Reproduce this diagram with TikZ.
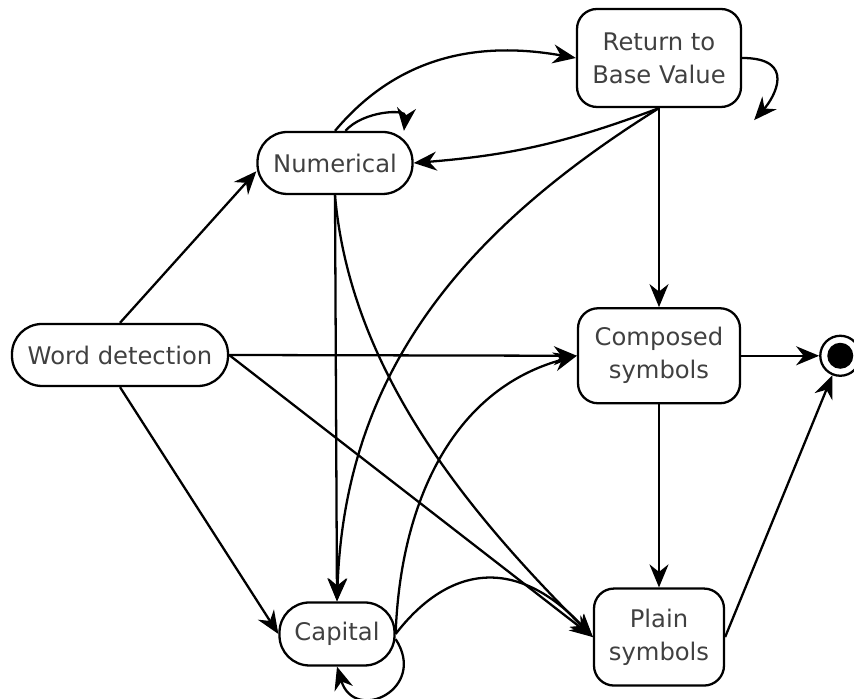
\documentclass[tikz,border=0pt]{standalone}
\usepackage{fontspec}
\setmainfont{DejaVu Sans}
\usetikzlibrary{positioning}
\usetikzlibrary{arrows.meta}

\begin{document}
\begin{tikzpicture}[%
			line width=1.3pt,
			>={Stealth[length=4.6mm,width=3.8mm,inset=1.5mm]},
			font=\fontsize{13.8}{18.8}\selectfont,
			state/.style={draw, rounded corners=0.6cm, align=center, inner sep=0pt, text=black!75},
			endstate/.style={draw, circle, inner sep=0pt, minimum size=0.8cm,
				path picture={\fill (path picture bounding box.center) circle (0.26cm);}}]
			\useasboundingbox (0,0) rectangle (17.08,13.98);
			\node[state, minimum width=4.32cm, minimum height=1.24cm] (word) at (2.40,6.88) {Word detection};
			\node[state, minimum width=3.1cm, minimum height=1.24cm] (numerical) at (6.70,10.72) {Numerical};
			\node[state, minimum width=2.3cm, minimum height=1.26cm] (capital) at (6.74,1.30) {Capital};
			\node[state, rounded corners=0.4cm, minimum width=3.28cm, minimum height=1.96cm] (retbase) at (13.18,12.82) {Return to\\Base Value};
			\node[state, rounded corners=0.4cm, minimum width=3.24cm, minimum height=1.9cm, below=3.98cm of retbase] (composed) {Composed\\symbols};
			\node[state, rounded corners=0.4cm, minimum width=2.6cm, minimum height=1.94cm, below=3.66cm of composed] (plain) {Plain\\symbols};
			\node[endstate, right=1.56cm of composed] (stop) {};
			\coordinate (retloop) at ([shift={(0.24,-0.24)}]retbase.south east);
			% from word detection
			\draw[->] (word.north) -- (numerical.186);
			\draw[->] (word.south) -- (capital.west);
			\draw[->] (word.east) -- (composed.west);
			\draw[->] (word.east) -- (plain.west);
			% numerical
			\draw[->] (numerical.north) to[out=50,in=170] (retbase.west);
			\draw[->] (numerical.72) .. controls +(0.35,0.4) and +(0.05,0.45) .. (numerical.25);
			\draw[->] (numerical.south) .. controls +(0.3,-3.5) and +(-2.5,2.5) .. (plain.west);
			\draw[->] (numerical.south) -- (capital.north);
			% return to base value
			\draw[->] (retbase.south) to[bend left=8] (numerical.east);
			\draw[->] (retbase.south) to[out=212,in=88] (capital.north);
			\draw[->] (retbase.east) .. controls +(1.1,0.0) and +(0.4,0.45) .. (retloop);
			\draw[->] (retbase.south) -- (composed.north);
			% capital
			\draw[->] (capital.east) to[out=88,in=195] (composed.west);
			\draw[->] (capital.east) .. controls +(1.0,1.3) and +(-1.6,1.7) .. (plain.west);
			\draw[->] (capital.-5) .. controls +(0.65,-1.0) and +(0.35,-1.15) .. (capital.south);
			% symbols
			\draw[->] (composed.south) -- (plain.north);
			\draw[->] (composed.east) -- (stop.west);
			\draw[->] (plain.east) -- (stop);
	\end{tikzpicture}
\end{document}
